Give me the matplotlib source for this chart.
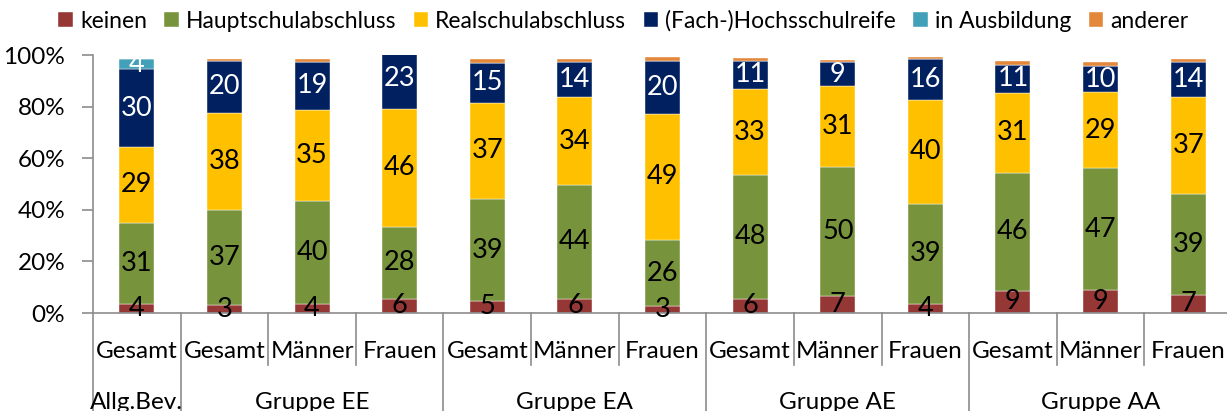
import matplotlib
matplotlib.use("Agg")
import matplotlib.pyplot as plt
import numpy as np

plt.rcParams["font.family"] = ["Lato", "DejaVu Sans"]

categories = ["Gesamt", "Gesamt", "Männer", "Frauen", "Gesamt", "Männer", "Frauen",
              "Gesamt", "Männer", "Frauen", "Gesamt", "Männer", "Frauen"]
groups = ["Allg.Bev.", "Gruppe EE", "Gruppe EA", "Gruppe AE", "Gruppe AA"]
group_sizes = [1, 3, 3, 3, 3]

series_names = ["keinen", "Hauptschulabschluss", "Realschulabschluss",
                "(Fach-)Hochsschulreife", "in Ausbildung", "anderer"]
keinen = [3.6, 3.0, 3.6, 5.5, 4.7, 5.6, 2.7, 5.6, 6.6, 3.6, 8.6, 8.9, 7.1]
haupt = [31.4, 36.8, 39.9, 27.8, 39.4, 44.1, 25.6, 47.8, 49.9, 38.7, 45.6, 47.2, 39.1]
real = [29.4, 37.9, 35.3, 45.9, 37.4, 33.9, 48.9, 33.4, 31.4, 40.4, 31.2, 29.4, 37.4]
hochschul = [30.0, 19.8, 18.6, 23.0, 15.3, 13.6, 20.4, 11.0, 9.3, 15.6, 10.8, 10.2, 13.8]
ausbildung = [3.9, 0, 0, 0, 0, 0, 0, 0, 0, 0, 0, 0, 0]
anderer = [0, 1.0, 0.9, 1.0, 1.5, 1.2, 1.5, 0.9, 0.9, 0.9, 1.4, 1.5, 1.0]

colors = ["#953735", "#77933C", "#FFC000", "#002060", "#42A0B8", "#E3873A"]
label_colors = ["black", "black", "black", "white", "white", None]

series = [keinen, haupt, real, hochschul, ausbildung, anderer]

fig = plt.figure(figsize=(12.27, 4.11), dpi=100)
ax = fig.add_axes([93 / 1227, 1 - 313 / 411, 1139 / 1227, 258 / 411])

x = np.arange(len(categories))
bottom = np.zeros(len(categories))
for name, vals, col, lcol in zip(series_names, series, colors, label_colors):
    vals = np.array(vals, dtype=float)
    ax.bar(x, vals, width=0.40, bottom=bottom, color=col, label=name,
           edgecolor="white", linewidth=0.3)
    if lcol is not None:
        for xi, b, v in zip(x, bottom, vals):
            if v > 0:
                ax.text(xi, b + v / 2, f"{v:.0f}", ha="center", va="center",
                        fontsize=19.5, color=lcol, clip_on=False)
    bottom += vals

ax.set_xlim(-0.5, len(categories) - 0.5)
ax.set_ylim(0, 100)
ax.set_yticks(np.arange(0, 101, 20))
ax.set_yticklabels([f"{v}%" for v in range(0, 101, 20)], fontsize=17.5)
ax.tick_params(axis="y", length=8, width=1.2, color="#8c8c8c", pad=12)
ax.set_xticks([])
for side in ["top", "right"]:
    ax.spines[side].set_visible(False)
for side in ["left", "bottom"]:
    ax.spines[side].set_color("#8c8c8c")
    ax.spines[side].set_linewidth(1.2)

trans = ax.get_xaxis_transform()
# category labels
for xi, c in zip(x, categories):
    ax.text(xi, -0.15, c, transform=trans, ha="center", va="center", fontsize=17.5)

# separators
group_edges = np.cumsum([0] + group_sizes) - 0.5
for edge in np.arange(len(categories) + 1) - 0.5:
    if edge in group_edges:
        ax.plot([edge, edge], [0, -0.40], transform=trans, color="#8c8c8c",
                lw=1.2, clip_on=False)
    else:
        ax.plot([edge, edge], [0, -0.20], transform=trans, color="#8c8c8c",
                lw=1.2, clip_on=False)

# group labels
for g, start, size in zip(groups, group_edges[:-1], group_sizes):
    ax.text(start + size / 2, -0.345, g, transform=trans, ha="center",
            va="center", fontsize=17.5)

fig.legend(loc="upper center", bbox_to_anchor=(0.508, 1.025), ncol=6, frameon=False,
           fontsize=16.5, handlelength=0.65, handleheight=0.65, handletextpad=0.3,
           columnspacing=0.75)

fig.savefig("out.png", dpi=100)
